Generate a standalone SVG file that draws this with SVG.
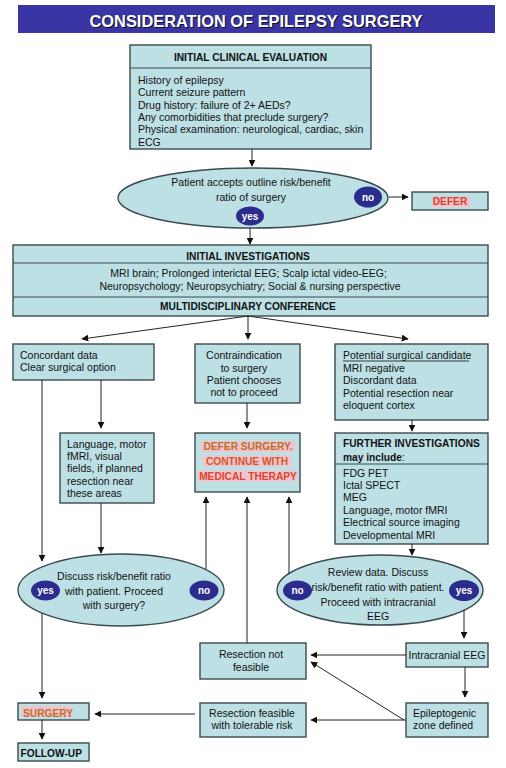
<svg xmlns="http://www.w3.org/2000/svg" width="506" height="768" viewBox="0 0 506 768">
<style>
.box{fill:#bde0e5;stroke:#3b4a4f;stroke-width:1.4}
.div{stroke:#3b4a4f;stroke-width:1.2}
.t{font-family:"Liberation Sans",Arial,sans-serif;font-size:10.5px;fill:#111}
.h{font-family:"Liberation Sans",Arial,sans-serif;font-size:10.2px;font-weight:bold;fill:#111}
.c{text-anchor:middle}
.yn{fill:#2c2c8e}
.ynt{font-family:"Liberation Sans",Arial,sans-serif;font-size:10px;font-weight:bold;fill:#fff;text-anchor:middle}
.red{font-family:"Liberation Sans",Arial,sans-serif;font-size:10.2px;font-weight:bold}
.hl{fill:#f2c3cc}
.ln{stroke:#222;stroke-width:1;fill:none}
</style>
<defs>
<marker id="ah" viewBox="0 0 10 10" refX="9" refY="5" markerWidth="7" markerHeight="7" markerUnits="userSpaceOnUse" orient="auto">
<path d="M0,0 L10,5 L0,10 z" fill="#111"/>
</marker>
</defs>
<rect width="506" height="768" fill="#fff"/>

<g id="title">
<rect x="18" y="5" width="477" height="28" fill="#3a34a4"/>
<text x="257" y="28" font-family="'Liberation Sans',Arial,sans-serif" font-size="16.4" font-weight="bold" fill="#111" text-anchor="middle">CONSIDERATION OF EPILEPSY SURGERY</text>
<text x="256" y="27" font-family="'Liberation Sans',Arial,sans-serif" font-size="16.4" font-weight="bold" fill="#fff" text-anchor="middle">CONSIDERATION OF EPILEPSY SURGERY</text>
</g>

<g id="initial-clinical-evaluation">
<rect class="box" x="130" y="45" width="241" height="104"/>
<line class="div" x1="130" y1="68" x2="371" y2="68"/>
<text class="h c" x="250.5" y="60.5">INITIAL CLINICAL EVALUATION</text>
<text class="t" x="138" y="84">History of epilepsy</text>
<text class="t" x="138" y="96.3">Current seizure pattern</text>
<text class="t" x="138" y="108.6">Drug history: failure of 2+ AEDs?</text>
<text class="t" x="138" y="120.9">Any comorbidities that preclude surgery?</text>
<text class="t" x="138" y="133.2">Physical examination: neurological, cardiac, skin</text>
<text class="t" x="138" y="145.5">ECG</text>
</g>

<g id="accepts">
<ellipse class="box" cx="253" cy="198" rx="135" ry="30"/>
<text class="t c" x="251" y="186">Patient accepts outline risk/benefit</text>
<text class="t c" x="251" y="200.5">ratio of surgery</text>
<ellipse class="yn" cx="368" cy="197" rx="14" ry="10.5"/>
<text class="ynt" x="368" y="200.5">no</text>
<ellipse class="yn" cx="250" cy="216" rx="14" ry="9.5"/>
<text class="ynt" x="250" y="219.5">yes</text>
</g>

<g id="defer">
<rect class="box" x="412" y="192" width="76" height="18"/>
<rect class="hl" x="432" y="197" width="38" height="10"/>
<text class="red c" x="450" y="205" fill="#d8402e">DEFER</text>
</g>

<g id="initial-investigations">
<rect class="box" x="13" y="245" width="475" height="71"/>
<line class="div" x1="13" y1="263" x2="488" y2="263"/>
<line class="div" x1="13" y1="297" x2="488" y2="297"/>
<text class="h c" x="248" y="259.5">INITIAL INVESTIGATIONS</text>
<text class="t c" x="248.5" y="277">MRI brain; Prolonged interictal EEG; Scalp ictal video-EEG;</text>
<text class="t c" x="250" y="290">Neuropsychology; Neuropsychiatry; Social &amp; nursing perspective</text>
<text class="h c" x="248" y="309.5">MULTIDISCIPLINARY CONFERENCE</text>
</g>

<g id="concordant">
<rect class="box" x="13" y="344" width="141" height="36"/>
<text class="t" x="20" y="359">Concordant data</text>
<text class="t" x="20" y="371.3">Clear surgical option</text>
</g>

<g id="contraindication">
<rect class="box" x="195" y="344" width="105" height="59"/>
<text class="t c" x="244" y="359">Contraindication</text>
<text class="t c" x="244" y="371.5">to surgery</text>
<text class="t c" x="244" y="384">Patient chooses</text>
<text class="t c" x="244" y="396.3">not to proceed</text>
</g>

<g id="potential-candidate">
<rect class="box" x="335" y="344" width="153" height="76"/>
<text class="t" x="343" y="359">Potential surgical candidate</text>
<line x1="343" y1="361" x2="469" y2="361" stroke="#111" stroke-width="0.8"/>
<text class="t" x="343" y="371.5">MRI negative</text>
<text class="t" x="343" y="384">Discordant data</text>
<text class="t" x="343" y="396.5">Potential resection near</text>
<text class="t" x="343" y="408.8">eloquent cortex</text>
</g>

<g id="language-fmri">
<rect class="box" x="60" y="433" width="94" height="70"/>
<text class="t" x="67" y="447.5">Language, motor</text>
<text class="t" x="67" y="460">fMRI, visual</text>
<text class="t" x="67" y="472.3">fields, if planned</text>
<text class="t" x="67" y="484.6">resection near</text>
<text class="t" x="67" y="497">these areas</text>
</g>

<g id="defer-surgery">
<rect class="box" x="195" y="433" width="105" height="59"/>
<rect class="hl" x="201" y="441" width="94" height="11"/>
<rect class="hl" x="203" y="455.5" width="88" height="11"/>
<rect class="hl" x="198" y="470.5" width="99" height="11"/>
<text class="red c" x="248" y="450" fill="#b8702a">DEFER SURGERY.</text>
<text class="red c" x="247" y="464.5" fill="#cc5a2a">CONTINUE WITH</text>
<text class="red c" x="248" y="479.5" fill="#e0442e">MEDICAL THERAPY</text>
</g>

<g id="further-investigations">
<rect class="box" x="335" y="433" width="153" height="111"/>
<line class="div" x1="335" y1="464" x2="488" y2="464"/>
<text class="h" x="343" y="447">FURTHER INVESTIGATIONS</text>
<text class="h" x="343" y="460.5">may include<tspan font-weight="normal">:</tspan></text>
<text class="t" x="343" y="476.5">FDG PET</text>
<text class="t" x="343" y="488.8">Ictal SPECT</text>
<text class="t" x="343" y="501.1">MEG</text>
<text class="t" x="343" y="513.7">Language, motor fMRI</text>
<text class="t" x="343" y="526">Electrical source imaging</text>
<text class="t" x="343" y="538.5">Developmental MRI</text>
</g>

<g id="discuss-left">
<ellipse class="box" cx="121" cy="590" rx="103" ry="36"/>
<text class="t c" x="114" y="579.5">Discuss risk/benefit ratio</text>
<text class="t c" x="114" y="594.5">with patient. Proceed</text>
<text class="t c" x="114" y="609">with surgery?</text>
<ellipse class="yn" cx="45.5" cy="590.5" rx="14.5" ry="10"/>
<text class="ynt" x="45.5" y="594">yes</text>
<ellipse class="yn" cx="204" cy="590.5" rx="14.5" ry="10"/>
<text class="ynt" x="204" y="594">no</text>
</g>

<g id="review-right">
<ellipse class="box" cx="380" cy="590" rx="103" ry="35"/>
<text class="t c" x="378" y="576">Review data. Discuss</text>
<text class="t c" x="378" y="590.5">risk/benefit ratio with patient.</text>
<text class="t c" x="378" y="605.5">Proceed with intracranial</text>
<text class="t c" x="378" y="620">EEG</text>
<ellipse class="yn" cx="297.5" cy="590.5" rx="14.5" ry="10"/>
<text class="ynt" x="297.5" y="594">no</text>
<ellipse class="yn" cx="464" cy="590.5" rx="15" ry="10.5"/>
<text class="ynt" x="464" y="594">yes</text>
</g>

<g id="resection-not-feasible">
<rect class="box" x="200" y="643" width="106" height="36"/>
<text class="t c" x="251" y="658">Resection not</text>
<text class="t c" x="251" y="670.5">feasible</text>
</g>

<g id="intracranial-eeg">
<rect class="box" x="406" y="643" width="82" height="24"/>
<text class="t c" x="447" y="658.5">Intracranial EEG</text>
</g>

<g id="epileptogenic-zone">
<rect class="box" x="406" y="703" width="82" height="34"/>
<text class="t" x="413" y="717">Epileptogenic</text>
<text class="t" x="413" y="729">zone defined</text>
</g>

<g id="resection-feasible">
<rect class="box" x="200" y="703" width="106" height="34"/>
<text class="t c" x="252" y="717">Resection feasible</text>
<text class="t c" x="252" y="729">with tolerable risk</text>
</g>

<g id="surgery">
<rect class="box" x="18" y="703" width="71" height="17"/>
<rect class="hl" x="22" y="706" width="50" height="11"/>
<text class="red" x="23" y="716.5" fill="#c07028">SURGERY</text>
</g>

<g id="follow-up">
<rect class="box" x="18" y="743" width="71" height="18"/>
<text class="h" x="20.5" y="756.5">FOLLOW-UP</text>
</g>

<g id="connectors">
<line class="ln" x1="252" y1="149" x2="252" y2="166" marker-end="url(#ah)"/>
<line class="ln" x1="389" y1="197" x2="408" y2="197" marker-end="url(#ah)"/>
<line class="ln" x1="250" y1="228" x2="250" y2="244" marker-end="url(#ah)"/>
<line class="ln" x1="248" y1="316" x2="82" y2="339" marker-end="url(#ah)"/>
<line class="ln" x1="248" y1="316" x2="248" y2="339" marker-end="url(#ah)"/>
<line class="ln" x1="248" y1="316" x2="408" y2="339" marker-end="url(#ah)"/>
<line class="ln" x1="101" y1="380" x2="101" y2="428" marker-end="url(#ah)"/>
<line class="ln" x1="42" y1="380" x2="42" y2="561" marker-end="url(#ah)"/>
<line class="ln" x1="101" y1="503" x2="101" y2="553" marker-end="url(#ah)"/>
<line class="ln" x1="247" y1="403" x2="247" y2="428" marker-end="url(#ah)"/>
<line class="ln" x1="412" y1="420" x2="412" y2="431" marker-end="url(#ah)"/>
<line class="ln" x1="412" y1="544" x2="412" y2="555" marker-end="url(#ah)"/>
<line class="ln" x1="206" y1="569" x2="206" y2="497" marker-end="url(#ah)"/>
<line class="ln" x1="247" y1="643" x2="247" y2="497" marker-end="url(#ah)"/>
<line class="ln" x1="289" y1="574" x2="289" y2="497" marker-end="url(#ah)"/>
<line class="ln" x1="42" y1="613" x2="42" y2="698" marker-end="url(#ah)"/>
<line class="ln" x1="464" y1="610" x2="464" y2="638" marker-end="url(#ah)"/>
<line class="ln" x1="406" y1="655" x2="311" y2="655" marker-end="url(#ah)"/>
<line class="ln" x1="465" y1="667" x2="465" y2="697" marker-end="url(#ah)"/>
<line class="ln" x1="404" y1="720" x2="311" y2="662" marker-end="url(#ah)"/>
<line class="ln" x1="406" y1="720" x2="311" y2="720" marker-end="url(#ah)"/>
<line class="ln" x1="195" y1="714" x2="95" y2="714" marker-end="url(#ah)"/>
<line class="ln" x1="42" y1="720" x2="42" y2="739" marker-end="url(#ah)"/>
</g>
</svg>
